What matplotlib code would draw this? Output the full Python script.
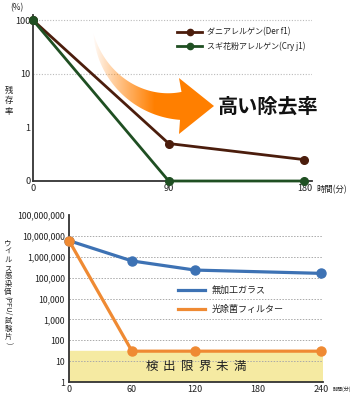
import matplotlib
matplotlib.use("Agg")
import matplotlib.pyplot as plt
import numpy as np
from matplotlib.patches import Polygon
from matplotlib.lines import Line2D

plt.rcParams['font.family'] = ['Noto Sans CJK JP', 'DejaVu Sans']

# top chart: allergen remaining rate (%)
t_top = [0, 90, 180]
der_f1 = [100, 0.5, 0.25]
cry_j1 = [100, 0.1, 0.1]
top_ticks = [0.1, 1, 10, 100]
top_ticklabels = ['0', '1', '10', '100']
top_labels = ['ダニアレルゲン(Der f1)', 'スギ花粉アレルゲン(Cry j1)']

# bottom chart: virus infectivity titer
t_bot = [0, 60, 120, 240]
glass = [5.9e6, 6.3e5, 2.3e5, 1.6e5]
photo_filter = [5.9e6, 30, 30, 30]
bot_ticks = [1, 10, 100, 1e3, 1e4, 1e5, 1e6, 1e7, 1e8]
bot_ticklabels = ['1', '10', '100', '1,000', '10,000', '100,000',
                  '1,000,000', '10,000,000', '100,000,000']
bot_labels = ['無加工ガラス', '光除菌フィルター']
detect_limit = 30

W, H = 356, 400
BROWN = '#4b1d0c'
GREEN = '#1f4f22'
BLUE = '#3d72b4'
ORANGE = '#ef8a33'
DARK = '#333333'
TXT = '#222222'


def px_rect(x0, y0, x1, y1):
    return [x0 / W, 1 - y1 / H, (x1 - x0) / W, (y1 - y0) / H]


fig = plt.figure(figsize=(W / 100, H / 100), dpi=100)

# ---- top chart ----
ax1 = fig.add_axes(px_rect(33, 15, 312, 181))
ax1.set_yscale('log')
ax1.set_xlim(0, 185)
ax1.set_ylim(0.1, 125)
for y in [10, 100]:
    ax1.axhline(y, color='#bbbbbb', lw=0.8, ls=(0, (1, 1.5)), zorder=1)
ax1.plot(t_top, der_f1, color=BROWN, lw=2, marker='o', ms=5.5, clip_on=False, zorder=3)
ax1.plot(t_top, cry_j1, color=GREEN, lw=2, marker='o', ms=5.5, clip_on=False, zorder=3)
ax1.set_yticks(top_ticks)
ax1.set_yticklabels(top_ticklabels)
ax1.minorticks_off()
ax1.set_xticks(t_top)
ax1.tick_params(length=0, labelsize=6.6, pad=2, colors=TXT)
for s in ['top', 'right']:
    ax1.spines[s].set_visible(False)
for s in ['left', 'bottom']:
    ax1.spines[s].set_color(DARK)
    ax1.spines[s].set_linewidth(1.3)

# ---- bottom chart ----
ax2 = fig.add_axes(px_rect(69, 215, 323, 382))
ax2.set_yscale('log')
ax2.set_xlim(0, 242)
ax2.set_ylim(1, 1e8)
ax2.axhspan(1, detect_limit, color='#f5eaa2', zorder=0)
for y in bot_ticks[1:-1]:
    ax2.axhline(y, color='#aaaaaa', lw=0.7, ls=(0, (1.5, 1.5)), zorder=1)
ax2.plot(t_bot, glass, color=BLUE, lw=2.3, marker='o', ms=6.5, clip_on=False, zorder=3)
ax2.plot(t_bot, photo_filter, color=ORANGE, lw=2.3, marker='o', ms=6.5, clip_on=False, zorder=3)
ax2.set_yticks(bot_ticks)
ax2.set_yticklabels(bot_ticklabels)
ax2.minorticks_off()
ax2.set_xticks([0, 60, 120, 180, 240])
ax2.tick_params(axis='y', length=0, labelsize=6.3, pad=3, colors=TXT)
ax2.tick_params(axis='x', length=0, labelsize=6.5, pad=2, colors=TXT)
for s in ['top', 'right']:
    ax2.spines[s].set_visible(False)
for s in ['left', 'bottom']:
    ax2.spines[s].set_color(DARK)
    ax2.spines[s].set_linewidth(1.3)

limit_text = '検出限界未満'
for i, ch in enumerate(limit_text):
    ax2.text(78.6 + i * 16.8, 5.5, ch, ha='center', va='center', fontsize=9, color=TXT)

# ---- overlay in pixel coordinates ----
ov = fig.add_axes([0, 0, 1, 1], zorder=10)
ov.set_xlim(0, W)
ov.set_ylim(H, 0)
ov.axis('off')
ov.patch.set_alpha(0)

# curved gradient arrow
cx, cy = 185, 25
th = np.radians(np.linspace(175, 93, 60))
tt = np.linspace(0, 1, 60)
r_out = 92 + 3 * tt
r_in = 92 - 25 * tt
outer = np.c_[cx + r_out * np.cos(th), cy + r_out * np.sin(th)]
inner = np.c_[cx + r_in * np.cos(th), cy + r_in * np.sin(th)]
head = np.array([[179, 134], [214, 106], [179, 78]])
pts = np.vstack([outer, head, inner[::-1]])
poly = Polygon(pts, closed=True, facecolor='none', edgecolor='none')
ov.add_patch(poly)
xs = np.arange(W)
alpha = np.clip((xs - 92) / 62.0, 0, 1) ** 0.9
img = np.zeros((H, W, 4))
img[..., 0] = 1.0
img[..., 1] = 0.5
img[..., 2] = 0.0
img[..., 3] = alpha[None, :]
im = ov.imshow(img, extent=(0, W, H, 0), origin='upper', interpolation='bilinear', zorder=2)
im.set_clip_path(poly)
ov.set_xlim(0, W)
ov.set_ylim(H, 0)

ov.text(218, 106, '高い除去率', fontsize=14.5, fontweight='bold', ha='left', va='center', color='#111111')

# top legend
for y, c, lab in zip([32, 46], [BROWN, GREEN], top_labels):
    ov.add_line(Line2D([177, 202], [y, y], color=c, lw=2))
    ov.plot([189.5], [y], 'o', color=c, ms=4.5)
    ov.text(207, y, lab, fontsize=5.8, ha='left', va='center', color=TXT)

# bottom legend
for y, c, lab in zip([290, 309], [BLUE, ORANGE], bot_labels):
    ov.add_line(Line2D([178, 205], [y, y], color=c, lw=2.3))
    ov.text(212, y, lab, fontsize=6.5, ha='left', va='center', color=TXT)

# axis captions
ov.text(17, 8, '(%)', fontsize=6, ha='center', va='center', color=TXT)
ov.text(9, 101, '残\n存\n率', fontsize=6, ha='center', va='center', linespacing=1.25, color=TXT)
ov.text(316, 190, '時間(分)', fontsize=6, ha='left', va='center', color=TXT)
ov.text(333, 389, '時間(分)', fontsize=3.6, ha='left', va='center', color=TXT)

# vertical japanese label: kana/kanji upright, latin part rotated
y = 244
for ch in 'ウイルス感染価':
    ov.text(8, y, ch, fontsize=5.3, ha='center', va='center', color=TXT)
    y += 8
ov.text(8, y + 6, '(PFU/', fontsize=5.3, ha='center', va='center', rotation=270, color=TXT)
y += 21
for ch in '試験片':
    ov.text(8, y, ch, fontsize=5.3, ha='center', va='center', color=TXT)
    y += 8
ov.text(8, y - 2, ')', fontsize=5.3, ha='center', va='center', rotation=270, color=TXT)

fig.savefig('out.png', dpi=100)
